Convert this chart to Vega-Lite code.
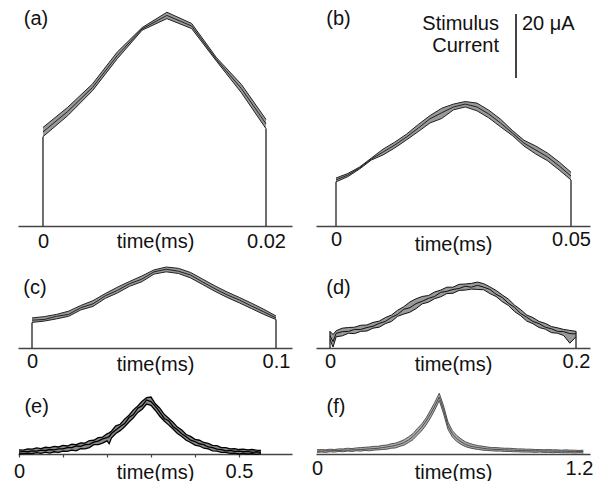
{
"$schema": "https://vega.github.io/schema/vega-lite/v6.json",
"padding": {"left": 13, "top": 0, "right": 0, "bottom": 0},
"background": "white",
"columns": 2,
"spacing": {"row": 20, "column": 24},
"bounds": "flush",
"config": {
  "view": {"stroke": null},
  "font": "Liberation Sans",
  "axis": {"labelFont": "Liberation Sans", "titleFont": "Liberation Sans", "labelFontSize": 20, "titleFontSize": 20, "titleFontWeight": "normal", "labelColor": "#111", "titleColor": "#111", "domainColor": "#444", "domainWidth": 1.5, "tickSize": 0, "grid": false, "labelFlush": false, "labelOverlap": false, "titleBaseline": "top", "labelExpr": "format(datum.value, '~g')"}
},
"concat": [
{
  "width": 274, "height": 226,
  "data": {"values": [
    {"t": 0, "lo": 27.9, "mid": 29.4, "hi": 30.8},
    {"t": 0.00222, "lo": 34.5, "mid": 35.8, "hi": 37.1},
    {"t": 0.00444, "lo": 42.3, "mid": 43.3, "hi": 44.4},
    {"t": 0.00667, "lo": 52.3, "mid": 53.3, "hi": 54.4},
    {"t": 0.00889, "lo": 61.2, "mid": 61.6, "hi": 62.0},
    {"t": 0.01111, "lo": 64.8, "mid": 65.8, "hi": 66.8},
    {"t": 0.01333, "lo": 61.7, "mid": 62.5, "hi": 63.3},
    {"t": 0.01556, "lo": 51.5, "mid": 52.0, "hi": 52.6},
    {"t": 0.01778, "lo": 41.7, "mid": 43.0, "hi": 44.3},
    {"t": 0.02, "lo": 30.4, "mid": 31.9, "hi": 33.3}
  ]},
  "encoding": {"x": {"field": "t", "type": "quantitative", "scale": {"domain": [-0.00224, 0.02233], "nice": false, "zero": false}, "axis": {"values": [0, 0.02], "title": "time(ms)", "labelPadding": 5, "titleY": 5}}},
  "layer": [
    {"mark": {"type": "area", "color": "#999999"}, "encoding": {"y": {"field": "lo", "type": "quantitative", "scale": {"domain": [0, 70.625], "nice": false, "zero": false}, "axis": null}, "y2": {"field": "hi"}}},
    {"transform": [{"fold": ["lo", "mid", "hi"], "as": ["k", "val"]}], "mark": {"type": "line", "color": "#222", "strokeWidth": 1}, "encoding": {"y": {"field": "val", "type": "quantitative", "scale": {"domain": [0, 70.625], "nice": false, "zero": false}, "axis": null}, "detail": {"field": "k"}}},
    {"transform": [{"filter": "datum.t == 0 || datum.t == 0.02"}], "mark": {"type": "rule", "color": "#222", "strokeWidth": 1.3}, "encoding": {"y": {"field": "lo", "type": "quantitative", "scale": {"domain": [0, 70.625], "nice": false, "zero": false}, "axis": null}, "y2": {"datum": 0}}},
    {"data": {"values": [{"t": -0.00063, "v": 64.7, "label": "(a)"}]}, "mark": {"type": "text", "fontSize": 20, "font": "Liberation Sans", "color": "#111", "baseline": "middle", "align": "center"}, "encoding": {"y": {"field": "v", "type": "quantitative", "scale": {"domain": [0, 70.625], "nice": false, "zero": false}, "axis": null}, "text": {"field": "label"}}}
  ]
},
{
  "width": 274, "height": 226,
  "data": {"values": [
    {"t": 0, "lo": 13.8, "mid": 14.4, "hi": 15.0},
    {"t": 0.0025, "lo": 15.4, "mid": 15.9, "hi": 16.4},
    {"t": 0.005, "lo": 17.8, "mid": 18.1, "hi": 18.4},
    {"t": 0.0075, "lo": 20.6, "mid": 20.9, "hi": 21.2},
    {"t": 0.01, "lo": 22.2, "mid": 23.1, "hi": 24.0},
    {"t": 0.0125, "lo": 24.4, "mid": 25.3, "hi": 26.2},
    {"t": 0.015, "lo": 26.9, "mid": 27.8, "hi": 28.7},
    {"t": 0.0175, "lo": 29.5, "mid": 30.6, "hi": 31.7},
    {"t": 0.02, "lo": 32.2, "mid": 33.5, "hi": 34.5},
    {"t": 0.0225, "lo": 33.6, "mid": 35.4, "hi": 36.8},
    {"t": 0.025, "lo": 36.3, "mid": 37.2, "hi": 38.1},
    {"t": 0.0275, "lo": 37.2, "mid": 38.1, "hi": 38.9},
    {"t": 0.03, "lo": 36.0, "mid": 37.2, "hi": 38.4},
    {"t": 0.0325, "lo": 33.8, "mid": 35.0, "hi": 36.2},
    {"t": 0.035, "lo": 31.0, "mid": 32.2, "hi": 33.4},
    {"t": 0.0375, "lo": 28.3, "mid": 29.1, "hi": 29.9},
    {"t": 0.04, "lo": 25.0, "mid": 25.9, "hi": 26.8},
    {"t": 0.0425, "lo": 22.5, "mid": 23.75, "hi": 25.0},
    {"t": 0.045, "lo": 20.4, "mid": 21.6, "hi": 22.8},
    {"t": 0.0475, "lo": 17.5, "mid": 18.75, "hi": 20.0},
    {"t": 0.05, "lo": 14.4, "mid": 15.6, "hi": 16.8}
  ]},
  "encoding": {"x": {"field": "t", "type": "quantitative", "scale": {"domain": [-0.004255, 0.054043], "nice": false, "zero": false}, "axis": {"values": [0, 0.05], "title": "time(ms)", "labelPadding": 3, "titleY": 8}}},
  "layer": [
    {"mark": {"type": "area", "color": "#999999"}, "encoding": {"y": {"field": "lo", "type": "quantitative", "scale": {"domain": [0, 70.625], "nice": false, "zero": false}, "axis": null}, "y2": {"field": "hi"}}},
    {"transform": [{"fold": ["lo", "mid", "hi"], "as": ["k", "val"]}], "mark": {"type": "line", "color": "#222", "strokeWidth": 1}, "encoding": {"y": {"field": "val", "type": "quantitative", "scale": {"domain": [0, 70.625], "nice": false, "zero": false}, "axis": null}, "detail": {"field": "k"}}},
    {"transform": [{"filter": "datum.t == 0 || datum.t == 0.05"}], "mark": {"type": "rule", "color": "#222", "strokeWidth": 1.3}, "encoding": {"y": {"field": "lo", "type": "quantitative", "scale": {"domain": [0, 70.625], "nice": false, "zero": false}, "axis": null}, "y2": {"datum": 0}}},
    {"data": {"values": [{"t": 0.00053, "v": 64.8, "label": "(b)"}]}, "mark": {"type": "text", "fontSize": 20, "font": "Liberation Sans", "color": "#111", "baseline": "middle", "align": "center"}, "encoding": {"y": {"field": "v", "type": "quantitative", "scale": {"domain": [0, 70.625], "nice": false, "zero": false}, "axis": null}, "text": {"field": "label"}}},
    {"data": {"values": [{"t": 0.03468, "v": 61.25, "label": "Stimulus"}, {"t": 0.03468, "v": 54.4, "label": "Current"}]}, "mark": {"type": "text", "fontSize": 20, "font": "Liberation Sans", "color": "#111", "baseline": "alphabetic", "align": "right"}, "encoding": {"y": {"field": "v", "type": "quantitative", "scale": {"domain": [0, 70.625], "nice": false, "zero": false}, "axis": null}, "text": {"field": "label"}}},
    {"data": {"values": [{"t": 0.03957, "v": 61.25, "label": "20 μA"}]}, "mark": {"type": "text", "fontSize": 20, "font": "Liberation Sans", "color": "#111", "baseline": "alphabetic", "align": "left"}, "encoding": {"y": {"field": "v", "type": "quantitative", "scale": {"domain": [0, 70.625], "nice": false, "zero": false}, "axis": null}, "text": {"field": "label"}}},
    {"data": {"values": [{"t": 0.0383, "v1": 46.25, "v2": 66.25}]}, "mark": {"type": "rule", "color": "#444", "strokeWidth": 2}, "encoding": {"y": {"field": "v1", "type": "quantitative", "scale": {"domain": [0, 70.625], "nice": false, "zero": false}, "axis": null}, "y2": {"field": "v2"}}}
  ]
},
{
  "width": 274, "height": 102,
  "data": {"values": [
    {"t": 0, "lo": 8.0, "mid": 8.7, "hi": 9.4},
    {"t": 0.005, "lo": 8.4, "mid": 8.9, "hi": 9.8},
    {"t": 0.01, "lo": 9.1, "mid": 9.9, "hi": 10.5},
    {"t": 0.015, "lo": 9.9, "mid": 10.5, "hi": 11.5},
    {"t": 0.02, "lo": 11.9, "mid": 12.6, "hi": 13.3},
    {"t": 0.025, "lo": 13.0, "mid": 13.8, "hi": 14.8},
    {"t": 0.03, "lo": 15.5, "mid": 16.3, "hi": 17.0},
    {"t": 0.035, "lo": 17.2, "mid": 18.0, "hi": 19.0},
    {"t": 0.04, "lo": 19.3, "mid": 20.1, "hi": 20.8},
    {"t": 0.045, "lo": 20.7, "mid": 21.5, "hi": 22.5},
    {"t": 0.05, "lo": 23.1, "mid": 23.8, "hi": 24.4},
    {"t": 0.055, "lo": 23.8, "mid": 24.6, "hi": 25.3},
    {"t": 0.06, "lo": 23.3, "mid": 24.0, "hi": 24.9},
    {"t": 0.065, "lo": 21.9, "mid": 22.8, "hi": 23.6},
    {"t": 0.07, "lo": 19.8, "mid": 20.6, "hi": 21.5},
    {"t": 0.075, "lo": 17.7, "mid": 18.5, "hi": 19.4},
    {"t": 0.08, "lo": 15.8, "mid": 16.6, "hi": 17.5},
    {"t": 0.085, "lo": 14.1, "mid": 15.0, "hi": 15.8},
    {"t": 0.09, "lo": 12.3, "mid": 13.1, "hi": 14.0},
    {"t": 0.095, "lo": 10.5, "mid": 11.3, "hi": 12.1},
    {"t": 0.1, "lo": 8.9, "mid": 9.4, "hi": 10.0}
  ]},
  "encoding": {"x": {"field": "t", "type": "quantitative", "scale": {"domain": [-0.005738, 0.106557], "nice": false, "zero": false}, "axis": {"values": [0, 0.1], "title": "time(ms)", "labelPadding": 3, "titleY": 6}}},
  "layer": [
    {"mark": {"type": "area", "color": "#999999"}, "encoding": {"y": {"field": "lo", "type": "quantitative", "scale": {"domain": [0, 31.875], "nice": false, "zero": false}, "axis": null}, "y2": {"field": "hi"}}},
    {"transform": [{"fold": ["lo", "mid", "hi"], "as": ["k", "val"]}], "mark": {"type": "line", "color": "#222", "strokeWidth": 1}, "encoding": {"y": {"field": "val", "type": "quantitative", "scale": {"domain": [0, 31.875], "nice": false, "zero": false}, "axis": null}, "detail": {"field": "k"}}},
    {"transform": [{"filter": "datum.t == 0 || datum.t == 0.1"}], "mark": {"type": "rule", "color": "#222", "strokeWidth": 1.3}, "encoding": {"y": {"field": "lo", "type": "quantitative", "scale": {"domain": [0, 31.875], "nice": false, "zero": false}, "axis": null}, "y2": {"datum": 0}}},
    {"data": {"values": [{"t": 0.00123, "v": 18.9, "label": "(c)"}]}, "mark": {"type": "text", "fontSize": 20, "font": "Liberation Sans", "color": "#111", "baseline": "middle", "align": "center"}, "encoding": {"y": {"field": "v", "type": "quantitative", "scale": {"domain": [0, 31.875], "nice": false, "zero": false}, "axis": null}, "text": {"field": "label"}}}
  ]
},
{
  "width": 274, "height": 102,
  "data": {"values": [
    {"t": 0, "lo": 2.6, "mid": 3.8, "hi": 5.2},
    {"t": 0.0025, "lo": 0.3, "mid": 2.0, "hi": 4.2},
    {"t": 0.005, "lo": 3.5, "mid": 4.6, "hi": 5.4},
    {"t": 0.01, "lo": 3.8, "mid": 5.1, "hi": 6.2},
    {"t": 0.015, "lo": 4.6, "mid": 5.2, "hi": 6.4},
    {"t": 0.02, "lo": 4.5, "mid": 5.8, "hi": 6.5},
    {"t": 0.025, "lo": 5.2, "mid": 5.8, "hi": 7.1},
    {"t": 0.03, "lo": 5.3, "mid": 6.4, "hi": 7.2},
    {"t": 0.035, "lo": 6.2, "mid": 6.8, "hi": 8.0},
    {"t": 0.04, "lo": 6.5, "mid": 7.7, "hi": 8.4},
    {"t": 0.045, "lo": 7.6, "mid": 8.3, "hi": 9.5},
    {"t": 0.05, "lo": 8.3, "mid": 9.6, "hi": 10.3},
    {"t": 0.055, "lo": 9.9, "mid": 10.5, "hi": 11.8},
    {"t": 0.06, "lo": 10.6, "mid": 12.1, "hi": 12.9},
    {"t": 0.065, "lo": 11.2, "mid": 12.6, "hi": 14.4},
    {"t": 0.07, "lo": 12.3, "mid": 13.9, "hi": 15.4},
    {"t": 0.075, "lo": 13.8, "mid": 14.6, "hi": 16.1},
    {"t": 0.08, "lo": 14.3, "mid": 15.5, "hi": 16.4},
    {"t": 0.085, "lo": 15.4, "mid": 16.1, "hi": 17.5},
    {"t": 0.09, "lo": 16.0, "mid": 17.4, "hi": 18.1},
    {"t": 0.095, "lo": 17.0, "mid": 17.7, "hi": 19.0},
    {"t": 0.1, "lo": 17.1, "mid": 18.3, "hi": 19.0},
    {"t": 0.105, "lo": 18.0, "mid": 18.6, "hi": 19.9},
    {"t": 0.11, "lo": 18.1, "mid": 19.3, "hi": 20.0},
    {"t": 0.115, "lo": 18.4, "mid": 19.0, "hi": 20.2},
    {"t": 0.12, "lo": 18.3, "mid": 19.6, "hi": 20.6},
    {"t": 0.125, "lo": 18.2, "mid": 19.0, "hi": 20.1},
    {"t": 0.13, "lo": 17.0, "mid": 18.3, "hi": 19.1},
    {"t": 0.135, "lo": 16.1, "mid": 16.8, "hi": 18.0},
    {"t": 0.14, "lo": 14.5, "mid": 15.8, "hi": 16.6},
    {"t": 0.145, "lo": 13.3, "mid": 14.0, "hi": 15.3},
    {"t": 0.15, "lo": 11.4, "mid": 12.7, "hi": 13.4},
    {"t": 0.155, "lo": 10.1, "mid": 10.8, "hi": 12.0},
    {"t": 0.16, "lo": 8.4, "mid": 9.6, "hi": 10.3},
    {"t": 0.165, "lo": 7.6, "mid": 8.3, "hi": 9.5},
    {"t": 0.17, "lo": 6.4, "mid": 7.6, "hi": 8.3},
    {"t": 0.175, "lo": 5.9, "mid": 6.5, "hi": 7.7},
    {"t": 0.18, "lo": 4.8, "mid": 6.0, "hi": 6.7},
    {"t": 0.185, "lo": 4.6, "mid": 5.2, "hi": 6.3},
    {"t": 0.19, "lo": 3.9, "mid": 5.1, "hi": 5.8},
    {"t": 0.195, "lo": 1.5, "mid": 4.5, "hi": 5.5},
    {"t": 0.2, "lo": 3.5, "mid": 4.4, "hi": 5.2}
  ]},
  "encoding": {"x": {"field": "t", "type": "quantitative", "scale": {"domain": [-0.01138, 0.21138], "nice": false, "zero": false}, "axis": {"values": [0, 0.2], "title": "time(ms)", "labelPadding": 3, "titleY": 6}}},
  "layer": [
    {"mark": {"type": "area", "color": "#999999"}, "encoding": {"y": {"field": "lo", "type": "quantitative", "scale": {"domain": [0, 31.875], "nice": false, "zero": false}, "axis": null}, "y2": {"field": "hi"}}},
    {"transform": [{"fold": ["lo", "mid", "hi"], "as": ["k", "val"]}], "mark": {"type": "line", "color": "#111", "strokeWidth": 1}, "encoding": {"y": {"field": "val", "type": "quantitative", "scale": {"domain": [0, 31.875], "nice": false, "zero": false}, "axis": null}, "detail": {"field": "k"}}},
    {"transform": [{"filter": "datum.t == 0 || datum.t == 0.2"}], "mark": {"type": "rule", "color": "#222", "strokeWidth": 1.3}, "encoding": {"y": {"field": "hi", "type": "quantitative", "scale": {"domain": [0, 31.875], "nice": false, "zero": false}, "axis": null}, "y2": {"datum": 0}}},
    {"data": {"values": [{"t": 0.0069, "v": 18.6, "label": "(d)"}]}, "mark": {"type": "text", "fontSize": 20, "font": "Liberation Sans", "color": "#111", "baseline": "middle", "align": "center"}, "encoding": {"y": {"field": "v", "type": "quantitative", "scale": {"domain": [0, 31.875], "nice": false, "zero": false}, "axis": null}, "text": {"field": "label"}}}
  ]
},
{
  "width": 274, "height": 86,
  "data": {"values": [
    {"t": 0, "lo": 0.0, "mid": 0.6, "hi": 1.3},
    {"t": 0.01, "lo": 0.1, "mid": 0.8, "hi": 1.2},
    {"t": 0.02, "lo": 0.2, "mid": 0.7, "hi": 1.6},
    {"t": 0.03, "lo": 0.1, "mid": 1.0, "hi": 1.5},
    {"t": 0.04, "lo": 0.4, "mid": 0.9, "hi": 1.9},
    {"t": 0.05, "lo": 0.2, "mid": 1.2, "hi": 1.7},
    {"t": 0.06, "lo": 0.6, "mid": 1.1, "hi": 2.1},
    {"t": 0.07, "lo": 0.3, "mid": 1.4, "hi": 2.0},
    {"t": 0.08, "lo": 0.7, "mid": 1.3, "hi": 2.4},
    {"t": 0.09, "lo": 0.5, "mid": 1.6, "hi": 2.2},
    {"t": 0.1, "lo": 0.9, "mid": 1.6, "hi": 2.7},
    {"t": 0.11, "lo": 0.8, "mid": 2.0, "hi": 2.5},
    {"t": 0.12, "lo": 1.2, "mid": 2.0, "hi": 3.1},
    {"t": 0.13, "lo": 1.0, "mid": 2.5, "hi": 2.9},
    {"t": 0.14, "lo": 1.7, "mid": 2.4, "hi": 3.5},
    {"t": 0.15, "lo": 1.6, "mid": 2.9, "hi": 3.4},
    {"t": 0.16, "lo": 2.0, "mid": 3.0, "hi": 4.2},
    {"t": 0.17, "lo": 2.9, "mid": 3.7, "hi": 4.3},
    {"t": 0.18, "lo": 2.9, "mid": 4.0, "hi": 5.1},
    {"t": 0.19, "lo": 3.4, "mid": 4.7, "hi": 5.3},
    {"t": 0.2, "lo": 4.1, "mid": 5.1, "hi": 6.3},
    {"t": 0.205, "lo": 3.2, "mid": 5.4, "hi": 6.6},
    {"t": 0.21, "lo": 5.0, "mid": 6.4, "hi": 7.1},
    {"t": 0.22, "lo": 6.4, "mid": 7.5, "hi": 8.8},
    {"t": 0.23, "lo": 7.3, "mid": 8.6, "hi": 9.3},
    {"t": 0.24, "lo": 8.5, "mid": 9.5, "hi": 10.9},
    {"t": 0.25, "lo": 10.0, "mid": 11.4, "hi": 12.1},
    {"t": 0.26, "lo": 11.3, "mid": 12.3, "hi": 13.8},
    {"t": 0.27, "lo": 13.0, "mid": 14.3, "hi": 15.0},
    {"t": 0.28, "lo": 14.0, "mid": 15.1, "hi": 16.5},
    {"t": 0.29, "lo": 15.6, "mid": 16.9, "hi": 17.6},
    {"t": 0.3, "lo": 15.2, "mid": 16.4, "hi": 17.8},
    {"t": 0.31, "lo": 13.6, "mid": 14.9, "hi": 15.7},
    {"t": 0.32, "lo": 11.8, "mid": 13.1, "hi": 14.3},
    {"t": 0.33, "lo": 10.3, "mid": 11.1, "hi": 12.4},
    {"t": 0.34, "lo": 9.1, "mid": 10.4, "hi": 11.2},
    {"t": 0.35, "lo": 7.8, "mid": 8.6, "hi": 9.9},
    {"t": 0.36, "lo": 6.4, "mid": 7.6, "hi": 8.4},
    {"t": 0.37, "lo": 5.5, "mid": 6.3, "hi": 7.5},
    {"t": 0.38, "lo": 4.3, "mid": 5.4, "hi": 6.1},
    {"t": 0.39, "lo": 3.6, "mid": 4.3, "hi": 5.5},
    {"t": 0.4, "lo": 2.8, "mid": 3.9, "hi": 4.6},
    {"t": 0.41, "lo": 2.5, "mid": 3.2, "hi": 4.3},
    {"t": 0.42, "lo": 1.8, "mid": 2.9, "hi": 3.6},
    {"t": 0.43, "lo": 1.6, "mid": 2.2, "hi": 3.3},
    {"t": 0.44, "lo": 1.0, "mid": 2.0, "hi": 2.7},
    {"t": 0.45, "lo": 0.9, "mid": 1.5, "hi": 2.6},
    {"t": 0.46, "lo": 0.5, "mid": 1.4, "hi": 2.0},
    {"t": 0.47, "lo": 0.5, "mid": 1.0, "hi": 2.0},
    {"t": 0.48, "lo": 0.2, "mid": 1.1, "hi": 1.6},
    {"t": 0.49, "lo": 0.3, "mid": 0.8, "hi": 1.7},
    {"t": 0.5, "lo": 0.0, "mid": 0.9, "hi": 1.4},
    {"t": 0.51, "lo": 0.2, "mid": 0.7, "hi": 1.5},
    {"t": 0.52, "lo": 0.0, "mid": 0.8, "hi": 1.3},
    {"t": 0.53, "lo": 0.1, "mid": 0.5, "hi": 1.4},
    {"t": 0.54, "lo": -0.1, "mid": 0.7, "hi": 1.2},
    {"t": 0.55, "lo": 0.1, "mid": 0.5, "hi": 1.1}
  ]},
  "encoding": {"x": {"field": "t", "type": "quantitative", "scale": {"domain": [-0.00227, 0.6205], "nice": false, "zero": false}, "axis": {"values": [0, 0.1, 0.2, 0.3, 0.4, 0.5], "labelExpr": "datum.value == 0 || datum.value == 0.5 ? format(datum.value, '~g') : ''", "tickSize": 3, "tickColor": "#444", "tickWidth": 1.2, "title": "time(ms)", "labelPadding": 4, "titleY": 8}}},
  "layer": [
    {"mark": {"type": "area", "color": "#8a8a8a"}, "encoding": {"y": {"field": "lo", "type": "quantitative", "scale": {"domain": [0, 26.875], "nice": false, "zero": false}, "axis": null}, "y2": {"field": "hi"}}},
    {"transform": [{"fold": ["lo", "mid", "hi"], "as": ["k", "val"]}], "mark": {"type": "line", "color": "#000", "strokeWidth": 1.3}, "encoding": {"y": {"field": "val", "type": "quantitative", "scale": {"domain": [0, 26.875], "nice": false, "zero": false}, "axis": null}, "detail": {"field": "k"}}},
    {"data": {"values": [{"t": 0.04, "v": 14.8, "label": "(e)"}]}, "mark": {"type": "text", "fontSize": 20, "font": "Liberation Sans", "color": "#111", "baseline": "middle", "align": "center"}, "encoding": {"y": {"field": "v", "type": "quantitative", "scale": {"domain": [0, 26.875], "nice": false, "zero": false}, "axis": null}, "text": {"field": "label"}}}
  ]
},
{
  "width": 274, "height": 86,
  "data": {"values": [
    {"t": 0, "lo": 0.5, "mid": 0.9, "hi": 1.3},
    {"t": 0.02, "lo": 0.6, "mid": 0.9, "hi": 1.4},
    {"t": 0.04, "lo": 0.5, "mid": 1.0, "hi": 1.3},
    {"t": 0.06, "lo": 0.7, "mid": 1.0, "hi": 1.5},
    {"t": 0.08, "lo": 0.6, "mid": 1.1, "hi": 1.4},
    {"t": 0.1, "lo": 0.8, "mid": 1.1, "hi": 1.6},
    {"t": 0.12, "lo": 0.7, "mid": 1.2, "hi": 1.6},
    {"t": 0.14, "lo": 0.9, "mid": 1.2, "hi": 1.8},
    {"t": 0.16, "lo": 0.8, "mid": 1.3, "hi": 1.7},
    {"t": 0.18, "lo": 1.0, "mid": 1.3, "hi": 1.9},
    {"t": 0.2, "lo": 0.9, "mid": 1.4, "hi": 2.0},
    {"t": 0.22, "lo": 1.1, "mid": 1.5, "hi": 2.1},
    {"t": 0.24, "lo": 1.0, "mid": 1.6, "hi": 2.2},
    {"t": 0.26, "lo": 1.2, "mid": 1.7, "hi": 2.4},
    {"t": 0.28, "lo": 1.3, "mid": 1.8, "hi": 2.4},
    {"t": 0.3, "lo": 1.4, "mid": 2.0, "hi": 2.7},
    {"t": 0.32, "lo": 1.5, "mid": 2.2, "hi": 2.8},
    {"t": 0.34, "lo": 1.8, "mid": 2.4, "hi": 3.2},
    {"t": 0.36, "lo": 1.9, "mid": 2.7, "hi": 3.4},
    {"t": 0.38, "lo": 2.4, "mid": 3.1, "hi": 3.9},
    {"t": 0.4, "lo": 2.8, "mid": 3.6, "hi": 4.5},
    {"t": 0.42, "lo": 3.6, "mid": 4.4, "hi": 5.4},
    {"t": 0.44, "lo": 4.5, "mid": 5.5, "hi": 6.4},
    {"t": 0.46, "lo": 5.9, "mid": 6.9, "hi": 8.0},
    {"t": 0.48, "lo": 7.3, "mid": 8.4, "hi": 9.4},
    {"t": 0.5, "lo": 9.1, "mid": 10.3, "hi": 11.3},
    {"t": 0.52, "lo": 11.3, "mid": 12.5, "hi": 13.7},
    {"t": 0.54, "lo": 13.8, "mid": 15.0, "hi": 16.2},
    {"t": 0.56, "lo": 16.7, "mid": 17.8, "hi": 19.0},
    {"t": 0.58, "lo": 12.5, "mid": 13.8, "hi": 15.0},
    {"t": 0.6, "lo": 7.7, "mid": 8.8, "hi": 10.0},
    {"t": 0.62, "lo": 5.3, "mid": 6.3, "hi": 7.3},
    {"t": 0.64, "lo": 3.9, "mid": 4.8, "hi": 5.8},
    {"t": 0.66, "lo": 3.0, "mid": 3.8, "hi": 4.7},
    {"t": 0.68, "lo": 2.3, "mid": 3.0, "hi": 3.8},
    {"t": 0.7, "lo": 1.9, "mid": 2.5, "hi": 3.3},
    {"t": 0.72, "lo": 1.6, "mid": 2.2, "hi": 2.9},
    {"t": 0.74, "lo": 1.4, "mid": 2.0, "hi": 2.6},
    {"t": 0.76, "lo": 1.2, "mid": 1.8, "hi": 2.4},
    {"t": 0.78, "lo": 1.1, "mid": 1.6, "hi": 2.2},
    {"t": 0.8, "lo": 1.0, "mid": 1.5, "hi": 2.0},
    {"t": 0.82, "lo": 0.9, "mid": 1.4, "hi": 2.0},
    {"t": 0.84, "lo": 0.9, "mid": 1.4, "hi": 1.9},
    {"t": 0.86, "lo": 0.8, "mid": 1.3, "hi": 1.8},
    {"t": 0.88, "lo": 0.8, "mid": 1.25, "hi": 1.8},
    {"t": 0.9, "lo": 0.7, "mid": 1.2, "hi": 1.7},
    {"t": 0.92, "lo": 0.7, "mid": 1.1, "hi": 1.6},
    {"t": 0.94, "lo": 0.6, "mid": 1.1, "hi": 1.6},
    {"t": 0.96, "lo": 0.6, "mid": 1.05, "hi": 1.5},
    {"t": 0.98, "lo": 0.6, "mid": 1.0, "hi": 1.5},
    {"t": 1.0, "lo": 0.5, "mid": 1.0, "hi": 1.4},
    {"t": 1.02, "lo": 0.6, "mid": 0.97, "hi": 1.4},
    {"t": 1.04, "lo": 0.5, "mid": 0.94, "hi": 1.3},
    {"t": 1.06, "lo": 0.5, "mid": 0.94, "hi": 1.4},
    {"t": 1.08, "lo": 0.4, "mid": 0.9, "hi": 1.3},
    {"t": 1.1, "lo": 0.5, "mid": 0.88, "hi": 1.3},
    {"t": 1.12, "lo": 0.4, "mid": 0.88, "hi": 1.2},
    {"t": 1.14, "lo": 0.4, "mid": 0.84, "hi": 1.3},
    {"t": 1.16, "lo": 0.4, "mid": 0.8, "hi": 1.2},
    {"t": 1.18, "lo": 0.3, "mid": 0.8, "hi": 1.2},
    {"t": 1.2, "lo": 0.4, "mid": 0.78, "hi": 1.1},
    {"t": 1.22, "lo": 0.3, "mid": 0.78, "hi": 1.2}
  ]},
  "encoding": {"x": {"field": "t", "type": "quantitative", "scale": {"domain": [-0.0046, 1.2506], "nice": false, "zero": false}, "axis": {"values": [0, 1.2], "title": "time(ms)", "labelPadding": 4, "titleY": 8}}},
  "layer": [
    {"mark": {"type": "area", "color": "#aaaaaa"}, "encoding": {"y": {"field": "lo", "type": "quantitative", "scale": {"domain": [0, 26.875], "nice": false, "zero": false}, "axis": null}, "y2": {"field": "hi"}}},
    {"transform": [{"fold": ["lo", "mid", "hi"], "as": ["k", "val"]}], "mark": {"type": "line", "color": "#444", "strokeWidth": 0.9}, "encoding": {"y": {"field": "val", "type": "quantitative", "scale": {"domain": [0, 26.875], "nice": false, "zero": false}, "axis": null}, "detail": {"field": "k"}}},
    {"data": {"values": [{"t": 0.087, "v": 14.8, "label": "(f)"}]}, "mark": {"type": "text", "fontSize": 20, "font": "Liberation Sans", "color": "#111", "baseline": "middle", "align": "center"}, "encoding": {"y": {"field": "v", "type": "quantitative", "scale": {"domain": [0, 26.875], "nice": false, "zero": false}, "axis": null}, "text": {"field": "label"}}}
  ]
}
]
}
